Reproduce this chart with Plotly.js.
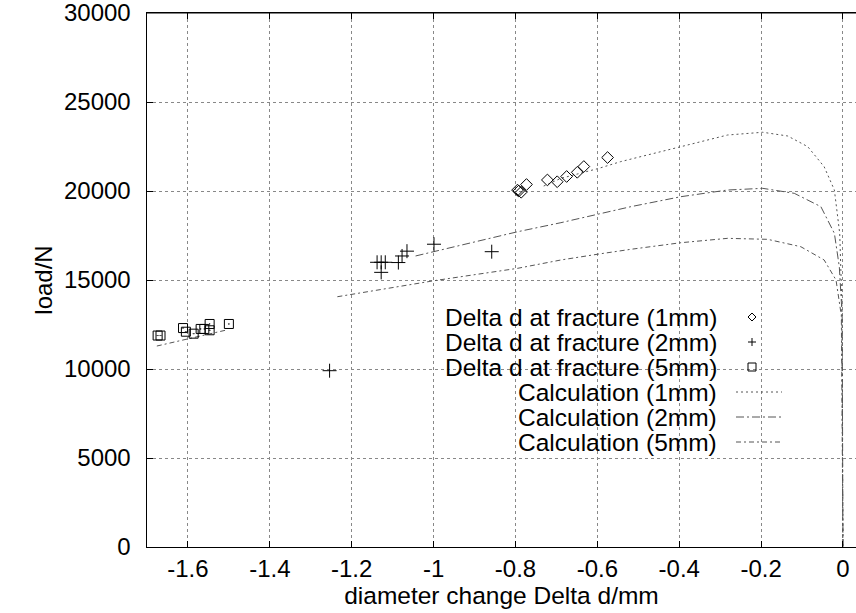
<!DOCTYPE html>
<html>
<head>
<meta charset="utf-8">
<script src="https://cdn.plot.ly/plotly-3.0.1.min.js"></script>
<style>
html,body{margin:0;padding:0;background:#fff;overflow:hidden;}
#chart{width:856px;height:613px;}
</style>
</head>
<body>
<div id="chart"></div>
<script>
// Measured fracture points
var frac1mm_x = [-0.795, -0.792, -0.786, -0.773, -0.722, -0.698, -0.675, -0.649, -0.633, -0.575];
var frac1mm_y = [20050, 20000, 19930, 20365, 20620, 20520, 20815, 21050, 21375, 21880];

var frac2mm_x = [-1.138, -1.128, -1.118, -1.128, -1.086, -1.077, -1.065, -0.999, -0.858, -1.254];
var frac2mm_y = [15995, 15995, 15995, 15430, 15980, 16350, 16620, 17010, 16590, 9905];

var frac5mm_x = [-1.674, -1.667, -1.612, -1.605, -1.586, -1.569, -1.560, -1.547, -1.547, -1.500];
var frac5mm_y = [11880, 11880, 12300, 12095, 11985, 12250, 12250, 12175, 12530, 12530];

// Calculated curves
var calc1mm_x = [-0.731, -0.689, -0.596, -0.543, -0.396, -0.282, -0.196, -0.135, -0.086, -0.046, -0.021, -0.008, -0.003, 0];
var calc1mm_y = [20280, 20710, 21275, 21650, 22490, 23145, 23300, 23090, 22490, 21365, 20055, 17620, 14000, 0];

var calc2mm_x = [-1.044, -0.795, -0.689, -0.518, -0.396, -0.282, -0.196, -0.119, -0.054, -0.021, -0.009, -0.002, 0];
var calc2mm_y = [16350, 17710, 18220, 19120, 19680, 20055, 20150, 19870, 19120, 17620, 15750, 13000, 0];

var calc5mm_x = [-1.676, -1.504, null, -1.235, -0.999, -0.795, -0.689, -0.596, -0.518, -0.396, -0.282, -0.184, -0.103, -0.046, -0.017, -0.004, 0];
var calc5mm_y = [11290, 12200, null, 14060, 14960, 15655, 16125, 16460, 16725, 17095, 17340, 17285, 16870, 16125, 15000, 13000, 0];

var xTickVals = [-1.6, -1.4, -1.2, -1, -0.8, -0.6, -0.4, -0.2, 0];
var xTickText = ['-1.6', '-1.4', '-1.2', '-1', '-0.8', '-0.6', '-0.4', '-0.2', '0'];
var yTickVals = [0, 5000, 10000, 15000, 20000, 25000, 30000];
var yTickText = ['0', '5000', '10000', '15000', '20000', '25000', '30000'];

var legendLabels = ['Delta d at fracture (1mm)', 'Delta d at fracture (2mm)', 'Delta d at fracture (5mm)',
                    'Calculation (1mm)', 'Calculation (2mm)', 'Calculation (5mm)'];

var FONT = 'Liberation Sans, Arial, Helvetica, sans-serif';
var FS = 24;
var LINECOL = '#555555';
var DASH1 = '2px,3px';
var DASH2 = '8px,3px,2px,3px';
var DASH5 = '5px,3px,2px,3px';

var traces = [
  {x: calc1mm_x, y: calc1mm_y, mode: 'lines', line: {color: LINECOL, width: 1, dash: DASH1}, name: legendLabels[3]},
  {x: calc2mm_x, y: calc2mm_y, mode: 'lines', line: {color: LINECOL, width: 1, dash: DASH2}, name: legendLabels[4]},
  {x: calc5mm_x, y: calc5mm_y, mode: 'lines', connectgaps: false, line: {color: LINECOL, width: 1, dash: DASH5}, name: legendLabels[5]},
  {x: frac1mm_x, y: frac1mm_y, mode: 'markers', name: legendLabels[0],
   marker: {symbol: 'diamond-open', size: 9, color: '#000', line: {color: '#000', width: 1}}},
  {x: frac2mm_x, y: frac2mm_y, mode: 'markers', name: legendLabels[1],
   marker: {symbol: 'cross-thin-open', size: 10, color: '#000', line: {color: '#000', width: 1}}},
  {x: frac5mm_x, y: frac5mm_y, mode: 'markers', name: legendLabels[2],
   marker: {symbol: 'square-open-dot', size: 9, color: '#000', line: {color: '#000', width: 1}}}
];

// custom gnuplot-style key (text right-aligned, sample on the right)
var plotL = 147, plotW = 709, plotB = 547, plotH = 534;
function px2x(p){ return (p - plotL) / plotW; }
function py2y(p){ return (plotB - p) / plotH; }
var rowY = [317, 342, 367, 392, 417, 442];
var annotations = [], shapes = [];
for (var i = 0; i < legendLabels.length; i++) {
  annotations.push({xref: 'paper', yref: 'paper', x: px2x(719), y: py2y(rowY[i]),
    xanchor: 'right', yanchor: 'middle', showarrow: false, text: legendLabels[i],
    font: {family: FONT, size: 24.5, color: '#000'}});
}
var mx = px2x(752);
shapes.push({type: 'path', xref: 'paper', yref: 'paper', xsizemode: 'pixel', ysizemode: 'pixel',
  xanchor: mx, yanchor: py2y(rowY[0]), path: 'M0,-4L4,0L0,4L-4,0Z', line: {color: '#000', width: 1}});
shapes.push({type: 'path', xref: 'paper', yref: 'paper', xsizemode: 'pixel', ysizemode: 'pixel',
  xanchor: mx, yanchor: py2y(rowY[1]), path: 'M-4,0L4,0M0,-4L0,4', line: {color: '#000', width: 1}});
shapes.push({type: 'rect', xref: 'paper', yref: 'paper', xsizemode: 'pixel', ysizemode: 'pixel',
  xanchor: mx, yanchor: py2y(rowY[2]), x0: -4, x1: 4, y0: -4, y1: 4, line: {color: '#000', width: 1}});
var dashes = [DASH1, DASH2, DASH5];
for (var j = 0; j < 3; j++) {
  shapes.push({type: 'line', xref: 'paper', yref: 'paper', x0: px2x(736), x1: px2x(782),
    y0: py2y(rowY[3 + j]), y1: py2y(rowY[3 + j]), line: {color: LINECOL, width: 1, dash: dashes[j]}});
}
// top frame line
shapes.push({type: 'line', xref: 'paper', yref: 'paper', x0: 0, x1: 1, y0: 1, y1: 1,
  line: {color: '#000', width: 1}});

var layout = {
  width: 856, height: 613,
  margin: {l: 147, r: 0, t: 13, b: 66, pad: 0},
  paper_bgcolor: '#fff', plot_bgcolor: '#fff',
  showlegend: false,
  font: {family: FONT, size: FS, color: '#000'},
  xaxis: {
    range: [-1.7, 0.0318], tickvals: xTickVals, ticktext: xTickText,
    showline: true, linecolor: '#000', linewidth: 1, mirror: 'ticks',
    ticks: 'inside', ticklen: 6, tickcolor: '#000', ticklabeloverflow: 'allow',
    showgrid: true, gridcolor: '#888', griddash: 'dot', gridwidth: 1, zeroline: false,
    tickfont: {family: FONT, size: FS},
    title: {text: 'diameter change Delta d/mm', font: {family: FONT, size: 24.5}, standoff: 4}
  },
  yaxis: {
    range: [0, 30000], tickvals: yTickVals, ticktext: yTickText,
    showline: true, linecolor: '#000', linewidth: 1.5,
    ticks: 'inside', ticklen: 6, tickcolor: '#000', ticklabelstandoff: 10, ticklabeloverflow: 'allow',
    showgrid: true, gridcolor: '#888', griddash: 'dot', gridwidth: 1, zeroline: false,
    tickfont: {family: FONT, size: FS},
    title: {text: 'load/N', font: {family: FONT, size: FS}, standoff: 4}
  },
  annotations: annotations,
  shapes: shapes
};

Plotly.newPlot('chart', traces, layout, {displayModeBar: false, staticPlot: true});
</script>
</body>
</html>
